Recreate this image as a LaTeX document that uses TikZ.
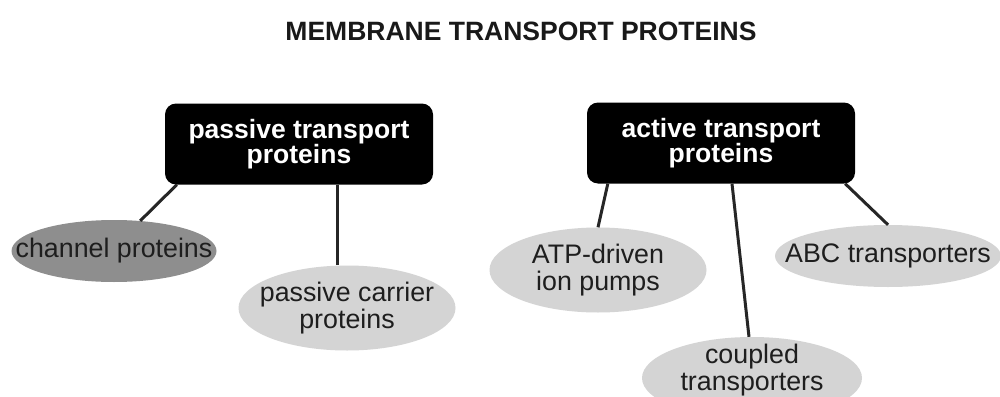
\documentclass[tikz,border=0pt]{standalone}
\usepackage{fontspec}
\setmainfont{Liberation Sans}
\usetikzlibrary{shapes.geometric}
\definecolor{darkoval}{HTML}{8E8E8E}
\definecolor{lightoval}{HTML}{D4D4D4}
\definecolor{ovaltext}{HTML}{1E1E1E}
\tikzset{
  category/.style={rectangle, rounded corners=11pt, fill=black, text=white,
    minimum width=268pt, minimum height=81pt, inner sep=0pt, align=center,
    font=\fontsize{26.5}{25}\selectfont\bfseries},
  oval/.style={ellipse, fill=lightoval, inner sep=0pt},
  ovallabel/.style={text=ovaltext, align=center, inner sep=0pt,
    font=\fontsize{26.8}{27}\selectfont},
  link/.style={line width=3pt, black!85}
}
\begin{document}
\begin{tikzpicture}[x=1pt, y=-1pt]
  \fill[white] (0,0) rectangle (1000,396);
  \useasboundingbox (0,0) rectangle (1000,396);

  \node[font=\fontsize{26.5}{27}\selectfont\bfseries, text=black!90] (title) at (521,31) {MEMBRANE TRANSPORT PROTEINS};

  % two categories
  \node[category] (pas) at (299,144) {passive transport\\proteins};
  \node[category] (act) at (721,143) {active transport\\proteins};

  % passive transport members
  \node[oval, fill=darkoval, minimum width=205pt, minimum height=62pt,
        label={[ovallabel]center:channel proteins}] (chan) at (114,251) {};
  \node[oval, minimum width=217pt, minimum height=85pt,
        label={[ovallabel]center:passive carrier\\proteins}] (carr) at (347,308) {};

  % active transport members
  \node[oval, minimum width=217pt, minimum height=85pt,
        label={[ovallabel]center:ATP-driven\\ion pumps}] (atp) at (598,270) {};
  \node[oval, minimum width=226pt, minimum height=62pt,
        label={[ovallabel]center:ABC transporters}] (abc) at (888,256) {};
  \node[oval, minimum width=220pt, minimum height=82pt,
        label={[ovallabel, yshift=8pt]center:coupled\\transporters}] (coup) at (752,378) {};

  % connectors
  \draw[link] ([xshift=12pt]pas.south west) -- (chan.49);
  \draw[link] ([xshift=38pt]pas.south) -- ([xshift=38pt]pas.south |- carr.north);
  \draw[link] ([xshift=21pt]act.south west) -- (atp.north);
  \draw[link] ([xshift=11pt]act.south) -- ([xshift=-3pt]coup.north);
  \draw[link] ([xshift=-10pt]act.south east) -- (abc.north);
\end{tikzpicture}
\end{document}
